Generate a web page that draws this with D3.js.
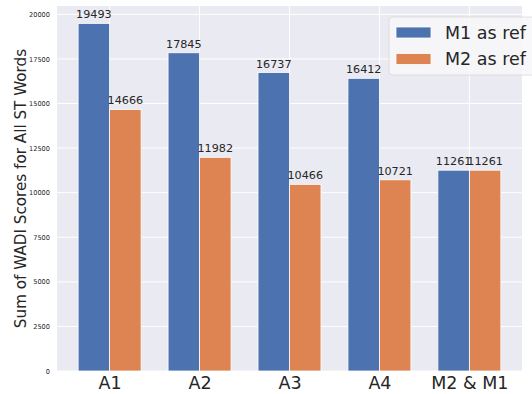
<!DOCTYPE html>
<html><head><meta charset="utf-8">
<script src="https://cdn.jsdelivr.net/npm/d3@7"></script>
<style>body{margin:0;background:#fff}svg{display:block;font-family:"DejaVu Sans",sans-serif}</style>
</head><body><svg id="c" width="532" height="394"></svg>
<script>
const categories = ["A1","A2","A3","A4","M2 & M1"];
const seriesNames = ["M1 as ref","M2 as ref"];
const m1Values = [19493,17845,16737,16412,11261];
const m2Values = [14666,11982,10466,10721,11261];
const yTicks = [0,2500,5000,7500,10000,12500,15000,17500,20000];
const colors = ["#4C72B0","#DD8452"];

const svg = d3.select("#c");
const L=57, R=522, T=6, B=371;
const barW = 0.35;
const x = d3.scaleLinear().domain([-0.585, categories.length-1+0.585]).range([L,R]);
const y = d3.scaleLinear().domain([0, d3.max(m1Values.concat(m2Values))*1.05]).range([B,T]);

svg.append("rect").attr("x",L).attr("y",T).attr("width",R-L).attr("height",B-T).attr("fill","#EAEAF2");
const g = svg.append("g");
g.selectAll(".hg").data(yTicks).join("line")
  .attr("x1",L).attr("x2",R).attr("y1",d=>y(d)).attr("y2",d=>y(d))
  .attr("stroke","#fff").attr("stroke-width",1);
g.selectAll(".vg").data(categories).join("line")
  .attr("x1",(d,i)=>x(i)).attr("x2",(d,i)=>x(i)).attr("y1",T).attr("y2",B)
  .attr("stroke","#fff").attr("stroke-width",1);

const series = [m1Values, m2Values];
series.forEach((vals,s)=>{
  const off = s===0 ? -barW/2 : barW/2;
  g.selectAll(".b"+s).data(vals).join("rect")
    .attr("x",(d,i)=>x(i+off-barW/2))
    .attr("width",x(barW)-x(0))
    .attr("y",d=>y(d)).attr("height",d=>B-y(d))
    .attr("fill",colors[s]).attr("stroke","#fff").attr("stroke-width",0.8);
  g.selectAll(".t"+s).data(vals).join("text")
    .attr("x",(d,i)=>x(i+off)).attr("y",d=>y(d)-5)
    .attr("text-anchor","middle").attr("font-size",11.2).attr("fill","#262626")
    .text(d=>d);
});

const yAxis = d3.axisLeft(y).tickValues(yTicks).tickSize(0).tickPadding(7).tickFormat(d3.format("d"));
const ya = svg.append("g").attr("transform",`translate(${L},0)`).call(yAxis);
ya.select(".domain").remove();
ya.selectAll("text").attr("font-size",6.6).attr("fill","#262626").attr("font-family","DejaVu Sans");

const xAxis = d3.axisBottom(x).tickValues(d3.range(categories.length)).tickSize(0).tickPadding(6).tickFormat(i=>categories[i]);
const xa = svg.append("g").attr("transform",`translate(0,${B})`).call(xAxis);
xa.select(".domain").remove();
xa.selectAll("text").attr("font-size",17.5).attr("fill","#262626").attr("font-family","DejaVu Sans");

svg.append("text").attr("transform",`translate(26,${(T+B)/2}) rotate(-90)`)
  .attr("text-anchor","middle").attr("font-size",15.2).attr("fill","#262626")
  .text("Sum of WADI Scores for All ST Words");

const lg = svg.append("g");
lg.append("rect").attr("x",389).attr("y",17).attr("width",160).attr("height",58).attr("rx",4)
  .attr("fill","#F7F7FA").attr("fill-opacity",0.9).attr("stroke","#D8D8D8").attr("stroke-width",0.8);
seriesNames.forEach((n,i)=>{
  lg.append("rect").attr("x",396).attr("y",27+i*26.5).attr("width",35).attr("height",11)
    .attr("fill",colors[i]).attr("stroke","#fff").attr("stroke-width",0.8);
  lg.append("text").attr("x",445).attr("y",38.5+i*26.5).attr("font-size",17.5).attr("fill","#262626").text(n);
});
</script></body></html>
